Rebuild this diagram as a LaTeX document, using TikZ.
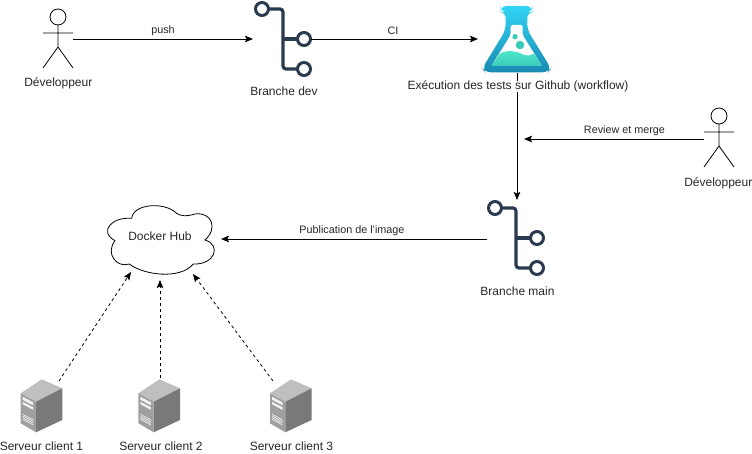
\documentclass[tikz,border=0pt]{standalone}
\usepackage{fontspec}
\setmainfont{Liberation Sans}
\usetikzlibrary{arrows.meta,shadings}
\definecolor{gitc}{HTML}{2A3B4F}
\definecolor{flasktop}{HTML}{32D4F5}
\definecolor{flaskbot}{HTML}{198AB3}
\definecolor{liqtop}{HTML}{4EEBCB}
\definecolor{liqbot}{HTML}{3CCBB8}
\tikzset{
  x=1pt,y=-1pt,
  lbl/.style={font=\fontsize{12}{14}\selectfont,text=black!85,inner sep=0pt},
  edgelbl/.style={font=\fontsize{10.8}{12}\selectfont,text=black!85,inner sep=0pt},
  holder/.style={inner sep=0pt,outer sep=0pt,minimum width=#1},
  conn/.style={line width=0.8pt,-{Stealth[length=8pt,width=6.5pt,inset=1.5pt]}},
  dconn/.style={conn,dash pattern=on 3pt off 3pt},
  actor/.pic={
    \draw[line width=0.8pt,fill=white] (0,-22) circle (8);
    \draw[line width=0.8pt] (0,-14) -- (0,8) (-15,-6) -- (15,-6) (0,8) -- (-15,29) (0,8) -- (15,29);
  },
  gitbranch/.pic={
    \draw[gitc,line width=3.2pt,line cap=round,rounded corners=3pt] (-15,-30) -- (0,-30) -- (0,30) -- (15,30);
    \draw[gitc,line width=3.2pt] (0,0) -- (15,0);
    \draw[gitc,line width=3pt,fill=white] (-21,-30) circle (6.5) (21,0) circle (6.5) (21,30) circle (6.5);
  },
  serverpic/.pic={
    \fill[gray!50!white] (0,0) -- (21,-14) -- (41.6,-5) -- (15.3,8.4) -- cycle;
    \fill[gray!75!white] (0,0) -- (15.3,8.4) -- (15.3,39) -- (0,30) -- cycle;
    \fill[gray!95!black] (15.3,8.4) -- (41.6,-5) -- (41.6,26.7) -- (15.3,39) -- cycle;
    \fill[white!90!gray] (2,3.5) -- (12.5,9) -- (12.5,12) -- (2,6.5) -- cycle;
    \fill[white!90!gray] (2,8.5) -- (12.5,14) -- (12.5,16.5) -- (2,11) -- cycle;
    \foreach \k in {0,1.7,3.4,5.1}
      \draw[white!85!gray,line width=0.7pt] (2,21+\k) -- (12.5,26.5+\k);
  },
}
\begin{document}
\begin{tikzpicture}
\useasboundingbox (0,0) rectangle (752,454);
% icons
\pic at (58,39) {actor};
\pic at (719,138) {actor};
\pic at (283,39) {gitbranch};
\pic at (516,238) {gitbranch};
% flask
\begin{scope}[shift={(470,5)},x=0.3333pt,y=-0.3333pt]
  \shade[top color=flasktop,bottom color=flaskbot,rounded corners=6pt]
    (92,3) -- (187,3) -- (187,21) -- (172,21) -- (172,75) -- (243,190) -- (235,202) -- (45,202) -- (37,190) -- (107,75) -- (107,21) -- (92,21) -- cycle;
  \fill[white,rounded corners=2pt] (122,60) -- (158,60) -- (158,90) -- (216,183) -- (64,183) -- (122,90) -- cycle;
  \shade[top color=liqtop,bottom color=liqbot]
    (64,183) -- (88,148) .. controls (108,132) and (140,138) .. (163,150) .. controls (175,153) and (185,150) .. (192,146) -- (216,183) -- cycle;
  \fill[liqbot] (135,95) circle (8) (150,120) circle (13);
\end{scope}
% servers
\pic at (20.7,393.3) {serverpic};
\pic at (138.4,393.3) {serverpic};
\pic at (270,393.3) {serverpic};
% cloud
\begin{scope}[shift={(90,190)},x=0.3333pt,y=-0.3333pt]
  \draw[line width=0.8pt,fill=white]
    (118,222) .. controls (160,255) and (270,270) .. (310,222)
    .. controls (375,225) and (395,165) .. (345,150)
    .. controls (385,115) and (365,65) .. (315,72)
    .. controls (290,80) and (270,78) .. (260,70)
    .. controls (225,35) and (130,40) .. (125,85)
    .. controls (65,80) and (25,125) .. (75,152)
    .. controls (45,190) and (80,235) .. (118,222) -- cycle;
\end{scope}
% holder nodes
\node[holder=30pt,minimum height=60pt] (dev1) at (58,39) {};
\node[holder=30pt,minimum height=60pt] (dev2) at (719,139) {};
\node[holder=60pt,minimum height=60pt] (bdev) at (283,39) {};
\node[holder=78pt,minimum height=68pt] (flask) at (517,39) {};
\node[holder=60pt,minimum height=76pt] (bmain) at (517,238) {};
\node[holder=114pt,minimum height=80pt] (hub) at (164,236) {};
\node[holder=42pt,minimum height=54pt] (srv1) at (41,408) {};
\node[holder=42pt,minimum height=60pt] (srv2) at (160,408) {};
\node[holder=42pt,minimum height=54pt] (srv3) at (291,408) {};
\coordinate (d1a) at (59,381);
\coordinate (d1b) at (131,272);
\coordinate (d2b) at (160,280);
\coordinate (d3a) at (273,381);
\coordinate (d3b) at (193,274);
\coordinate (rv) at (524,139);
\coordinate (ci) at (311,39);
% connectors
\draw[conn] (dev1.east) -- (bdev.west);
\draw[conn] (ci) -- (flask.west);
\draw[conn] (flask.south) -- (bmain.north);
\draw[conn] (dev2.west) -- (rv);
\draw[conn] (bmain.west) ++(0,1) -- (hub.east |- 0,239);
\draw[dconn] (d1a) -- (d1b);
\draw[dconn] (srv2.north) -- (d2b);
\draw[dconn] (d3a) -- (d3b);
% labels
\node[lbl] (t1) at (58.3,83.6) {Développeur};
\node[lbl,anchor=east] (t2) at (752.5,183.6) {Développeur};
\node[lbl] (t3) at (284,91.6) {Branche dev};
\node[lbl,fill=white] (t4) at (518,86.6) {Exécution des tests sur Github (workflow)};
\node[lbl] (t5) at (517.5,291.6) {Branche main};
\node[lbl] (t6) at (160,236.6) {Docker Hub};
\node[lbl] (t7) at (41.5,446.6) {Serveur client 1};
\node[lbl] (t8) at (161,446.6) {Serveur client 2};
\node[lbl] (t9) at (291.5,446.6) {Serveur client 3};
\node[edgelbl] (e1) at (163,30.8) {push};
\node[edgelbl] (e2) at (393,30.8) {CI};
\node[edgelbl] (e3) at (624.5,130.8) {Review et merge};
\node[edgelbl] (e4) at (352,230.8) {Publication de l\symbol{39}image};
\end{tikzpicture}
\end{document}
